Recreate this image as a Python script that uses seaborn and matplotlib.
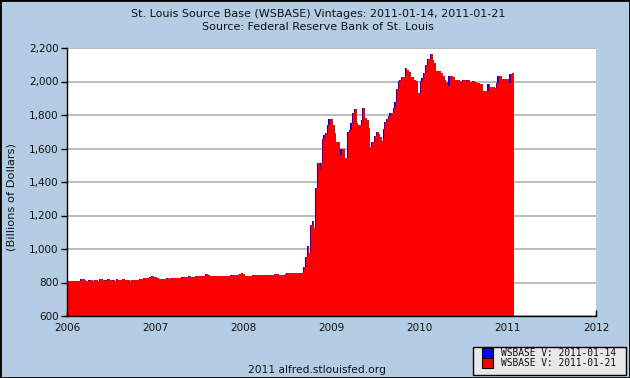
import numpy as np
import pandas as pd
import matplotlib
matplotlib.use("Agg")
import matplotlib.pyplot as plt
import matplotlib.dates as mdates
from matplotlib.patches import Rectangle
import seaborn as sns

# ---------------- data ----------------
title_line1 = "St. Louis Source Base (WSBASE) Vintages: 2011-01-14, 2011-01-21"
title_line2 = "Source: Federal Reserve Bank of St. Louis"
y_label = "(Billions of Dollars)"
footer_text = "2011 alfred.stlouisfed.org"
vintage_labels = ["WSBASE V: 2011-01-14", "WSBASE V: 2011-01-21"]
first_week = "2006-01-04"
year_ticks = [2006, 2007, 2008, 2009, 2010, 2011, 2012]
y_ticks = [600, 800, 1000, 1200, 1400, 1600, 1800, 2000, 2200]

values_2006 = [806, 806, 807, 808, 809, 810, 810, 811,
               820, 818, 812,
               811, 811, 812, 812, 811, 812, 812, 811,
               820, 819, 812,
               811, 812,
               819, 812,
               811, 812, 811,
               819, 813,
               812, 812,
               819, 817,
               812, 812, 811, 812, 812, 813, 812, 813,
               818, 820,
               826, 826, 827, 826,
               835, 841, 832]
values_2007 = [830, 826,
               822, 822, 823, 822, 823, 824, 823,
               826, 826, 827, 826, 828, 828, 829,
               831, 831, 832, 833,
               840,
               834, 835, 835,
               841,
               836, 836, 837, 836, 838,
               851, 846,
               837, 838, 838, 837, 839, 838, 838, 839, 840, 839, 840, 841, 840,
               845, 846, 842,
               841, 842,
               851, 855]
values_2008 = [848,
               840, 839, 840, 841, 840,
               845, 843, 846, 842, 843, 845,
               841, 842, 843, 842, 843, 844, 843,
               849, 850, 846,
               845, 846, 847, 848,
               855, 854, 855, 856, 855, 856, 857,
               857, 857, 858,
               894, 954, 1018, 978, 1144, 1170, 1128, 1363, 1512, 1472,
               1516, 1658, 1682, 1692, 1742, 1776, 1776]
values_2009 = [1742, 1692, 1636, 1636, 1560, 1600, 1600, 1546, 1546, 1700,
               1711, 1751, 1811, 1835, 1751, 1740, 1740, 1771, 1841, 1782,
               1772, 1722, 1607, 1639, 1639, 1673, 1698, 1686, 1667, 1647,
               1718, 1758, 1778, 1792, 1810, 1810, 1842, 1878, 1957, 2001,
               2009, 2025, 2025, 2081, 2071, 2057, 2025, 2025, 2011, 2001,
               1931, 1931]
values_2010 = [2001, 2021, 2051, 2100, 2136, 2136, 2164, 2130, 2110, 2064,
               2064, 2064, 2051, 2031, 2011, 1995, 1975, 2031, 2031, 2025,
               2011, 2007, 2007, 2001, 1995, 2007, 2007, 1995, 2011, 1995,
               1995, 2001, 1995, 1991, 1991, 1985, 1985, 1945, 1945, 1945,
               1985, 1965, 1965, 1965, 1961, 1991, 2031, 2031, 2017, 2017,
               2015, 2015]
values_2011 = [1989, 2045, 2053]

# ---------------- build ----------------
values_new = values_2006 + values_2007 + values_2008 + values_2009 + values_2010 + values_2011
weeks = pd.date_range(first_week, periods=len(values_new), freq="7D")
values_old = values_new[:-1]          # earlier vintage ends one week sooner
weeks_old = weeks[:-1]

week_days = 7.0
blue_shift = 5.0
x_new = mdates.date2num(weeks) + week_days / 2
x_old = mdates.date2num(weeks_old) + week_days / 2 - blue_shift

df_new = pd.DataFrame({"x": x_new, "v": values_new})
df_old = pd.DataFrame({"x": x_old, "v": values_old})

bg = "#b4cde4"
blue = "#0000ff"
red = "#ff0000"
sns.set_theme(style="white")
plt.rcParams["font.family"] = ["DejaVu Sans"]

W, H = 630, 378
fig = plt.figure(figsize=(6.3, 3.78), dpi=100, facecolor=bg)
ax = fig.add_axes([67 / W, 1 - 316 / H, (596 - 67) / W, (316 - 48) / H])
ax.set_facecolor("white")

sns.barplot(data=df_old, x="x", y="v", native_scale=True, color=blue,
            saturation=1, width=1.0, errorbar=None, linewidth=0,
            antialiased=False, ax=ax)
sns.barplot(data=df_new, x="x", y="v", native_scale=True, color=red,
            saturation=1, width=1.0, errorbar=None, linewidth=0,
            antialiased=False, ax=ax)

year_pos = [mdates.date2num(pd.Timestamp(f"{y}-01-01")) for y in year_ticks]
ax.set_xlim(year_pos[0], year_pos[-1])
ax.set_ylim(y_ticks[0], y_ticks[-1])
ax.set_xticks(year_pos)
ax.set_xticklabels([str(y) for y in year_ticks])
ax.set_yticks(y_ticks)
ax.set_yticklabels([f"{v:,}" for v in y_ticks])
ax.set_xlabel("")
ax.set_ylabel("")

ax.set_axisbelow(True)
ax.yaxis.grid(True, color="#b0b0b0", linewidth=1.2)
ax.xaxis.grid(False)
for s in ["top", "right"]:
    ax.spines[s].set_visible(False)
for s in ["left", "bottom"]:
    ax.spines[s].set_color("black")
    ax.spines[s].set_linewidth(1.0)
ax.tick_params(axis="y", direction="out", length=4, width=1, color="black",
               labelsize=7.5, pad=2, left=True)
ax.tick_params(axis="x", direction="in", length=4, width=1, color="black",
               labelsize=7.5, pad=5, bottom=True)
for lab in ax.get_xticklabels() + ax.get_yticklabels():
    lab.set_color("#111111")

fig.text(0.505, 1 - 14 / H, title_line1, ha="center", va="center", fontsize=8, color="#111111")
fig.text(0.505, 1 - 27 / H, title_line2, ha="center", va="center", fontsize=8, color="#111111")
fig.text(12 / W, 1 - 197 / H, y_label, rotation=90, ha="center", va="center",
         fontsize=8.2, color="#111111")
fig.text(317 / W, 1 - 370 / H, footer_text, ha="center", va="center", fontsize=7.7, color="#111111")

# legend box (drawn in figure pixel coordinates)
def fig_rect(x0, y0, x1, y1, **kw):
    return Rectangle((x0 / W, 1 - y1 / H), (x1 - x0) / W, (y1 - y0) / H,
                     transform=fig.transFigure, **kw)

fig.patches.append(fig_rect(473, 347, 626, 374.5, facecolor="#e8e8e8",
                            edgecolor="black", linewidth=1.0, zorder=5))
for (y0, y1), col, lab in zip([(348, 357.5), (358, 368)], [blue, red], vintage_labels):
    fig.patches.append(fig_rect(482, y0, 492.5, y1, facecolor=col,
                                edgecolor="black", linewidth=0.8, zorder=6))
    fig.text(501 / W, 1 - ((y0 + y1) / 2) / H, lab, ha="left", va="center",
             fontsize=6.9, family="DejaVu Sans Mono", color="#111111", zorder=7)

fig.patches.append(Rectangle((0, 0), 1, 1, transform=fig.transFigure, fill=False,
                             edgecolor="black", linewidth=2, zorder=10))

fig.savefig("out.png", dpi=100, facecolor=bg)
